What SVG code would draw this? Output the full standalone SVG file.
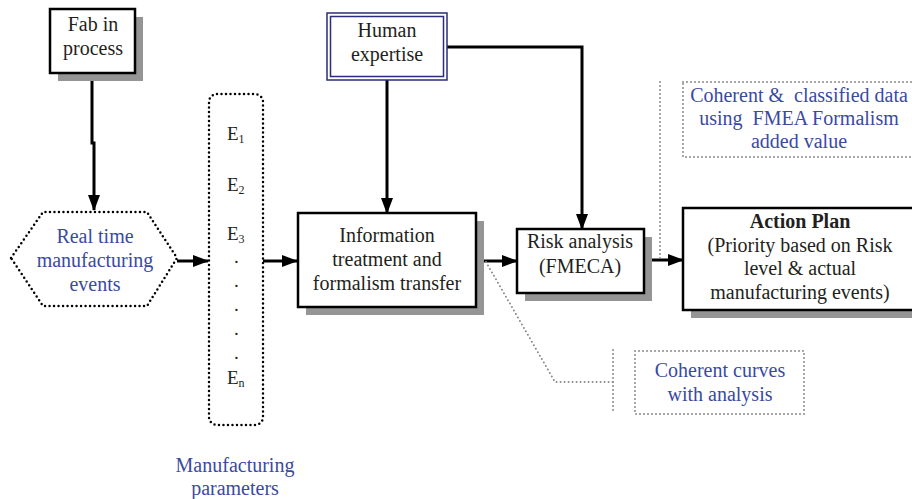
<svg xmlns="http://www.w3.org/2000/svg" width="912" height="499" viewBox="0 0 912 499">
<defs>
<marker id="ah" markerWidth="16" markerHeight="12" refX="15" refY="6" orient="auto" markerUnits="userSpaceOnUse">
<path d="M0,0 L16,6 L0,12 Z" fill="#000"/>
</marker>
</defs>
<style>
text{font-family:'Liberation Serif','DejaVu Serif',serif}
.t{font-size:20px;fill:#231f20;text-anchor:middle}
.b{fill:#3a4a9f}
.box{fill:#fff;stroke:#000;stroke-width:2.5}
.sh{fill:#959595}
.dot{fill:none;stroke:#000;stroke-width:2.5;stroke-dasharray:0 4.5;stroke-linecap:round}
.gdot{fill:none;stroke:#8a8a8a;stroke-width:2;stroke-dasharray:0 4;stroke-linecap:round}
.con{fill:none;stroke:#000;stroke-width:3}
.e{font-size:19px;fill:#231f20}
.s{font-size:12px}
</style>
<rect width="912" height="499" fill="#fff"/>

<g id="connectors">
<path class="con" d="M92,73 L92,143 L94,143 L94,210" marker-end="url(#ah)"/>
<path class="con" d="M177,261 L208,261" marker-end="url(#ah)"/>
<path class="con" d="M263,261 L297,261" marker-end="url(#ah)"/>
<path class="con" d="M387,80 L387,213" marker-end="url(#ah)"/>
<path class="con" d="M447,47 L582,47 L582,229" marker-end="url(#ah)"/>
<path class="con" d="M476,261 L517,261" marker-end="url(#ah)"/>
<path class="con" d="M644,260 L683,260" marker-end="url(#ah)"/>
<path class="gdot" d="M660,258 L660,80"/>
<path class="gdot" d="M486,262 L555,382 L613,382"/>
<path class="gdot" d="M613,350 L613,411"/>
</g>

<g id="fab">
<rect class="sh" x="58" y="17" width="85" height="64"/>
<rect class="box" x="50" y="9" width="85" height="64"/>
<text class="t" x="93" y="31">Fab in</text>
<text class="t" x="93" y="55">process</text>
</g>

<g id="realtime">
<polygon class="dot" points="11,258 43,212 147,212 177,258 147,306 43,306"/>
<text class="t b" x="95" y="243">Real time</text>
<text class="t b" x="95" y="267">manufacturing</text>
<text class="t b" x="95" y="291">events</text>
</g>

<g id="params">
<rect class="dot" x="209" y="94" width="54" height="331" rx="8"/>
<text class="e" x="227" y="140">E<tspan class="s" dy="3">1</tspan></text>
<text class="e" x="227" y="191">E<tspan class="s" dy="3">2</tspan></text>
<text class="e" x="227" y="240">E<tspan class="s" dy="3">3</tspan></text>
<text class="e" x="234" y="263">.</text>
<text class="e" x="234" y="287">.</text>
<text class="e" x="234" y="311">.</text>
<text class="e" x="234" y="335">.</text>
<text class="e" x="234" y="359">.</text>
<text class="e" x="227" y="384">E<tspan class="s" dy="3">n</tspan></text>
</g>

<g id="mparams">
<text class="t b" x="235" y="472">Manufacturing</text>
<text class="t b" x="235" y="495">parameters</text>
</g>

<g id="human">
<rect x="327" y="13" width="120" height="67" fill="#fff" stroke="#2b2d7a" stroke-width="1.5"/>
<rect x="330.5" y="16.5" width="113" height="60" fill="none" stroke="#2b2d7a" stroke-width="1.5"/>
<text class="t" x="387" y="37">Human</text>
<text class="t" x="387" y="61">expertise</text>
</g>

<g id="info">
<rect class="sh" x="306" y="221" width="178" height="94"/>
<rect class="box" x="298" y="213" width="178" height="94"/>
<text class="t" x="387" y="242">Information</text>
<text class="t" x="387" y="266">treatment and</text>
<text class="t" x="387" y="290">formalism transfer</text>
</g>

<g id="risk">
<rect class="sh" x="525" y="237" width="127" height="64"/>
<rect class="box" x="517" y="229" width="127" height="64"/>
<text class="t" x="580" y="248">Risk analysis</text>
<text class="t" x="580" y="273">(FMECA)</text>
</g>

<g id="action">
<rect class="sh" x="691" y="216" width="240" height="102"/>
<rect class="box" x="683" y="208" width="240" height="102"/>
<text class="t" x="800" y="228" font-weight="bold">Action Plan</text>
<text class="t" x="800" y="252">(Priority based on Risk</text>
<text class="t" x="800" y="275">level &amp; actual</text>
<text class="t" x="800" y="299">manufacturing events)</text>
</g>

<g id="coherentdata">
<rect class="gdot" x="683" y="82" width="240" height="75"/>
<text class="t b" x="799" y="102">Coherent &amp;&#160; classified data</text>
<text class="t b" x="799" y="125">using&#160; FMEA Formalism</text>
<text class="t b" x="799" y="148">added value</text>
</g>

<g id="coherentcurves">
<rect class="gdot" x="635" y="351" width="169" height="63"/>
<text class="t b" x="720" y="377">Coherent curves</text>
<text class="t b" x="720" y="401">with analysis</text>
</g>
</svg>
